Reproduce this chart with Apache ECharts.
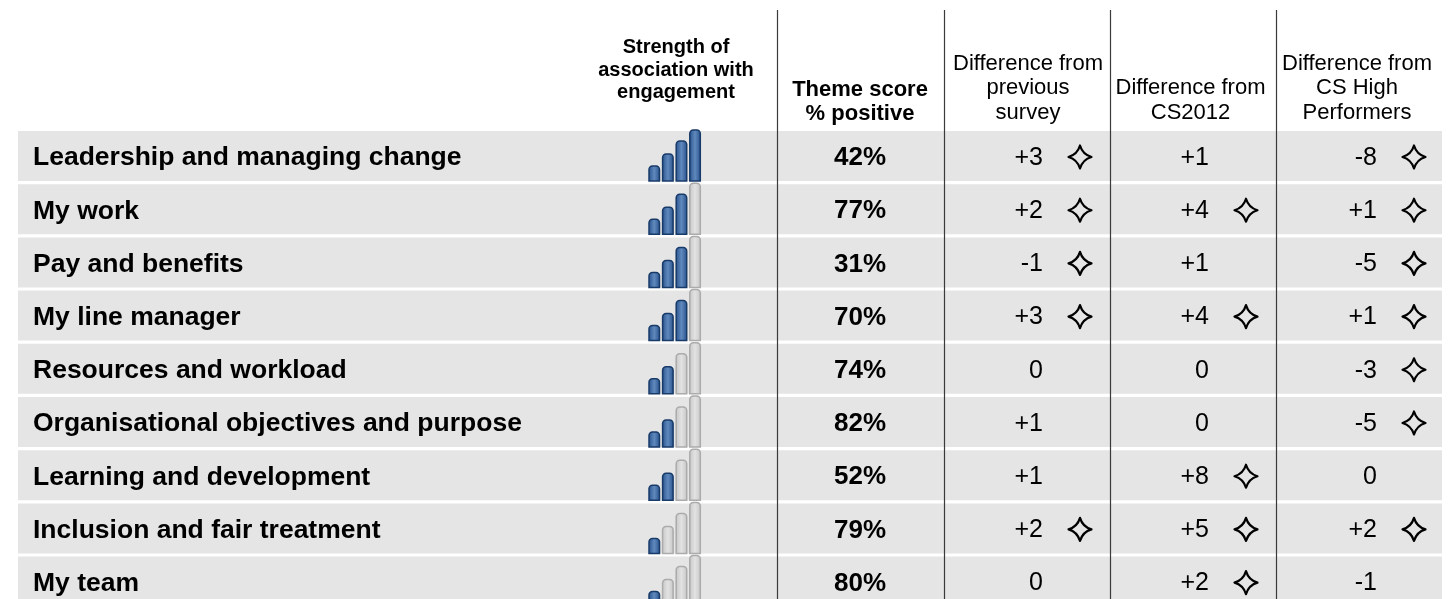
<!DOCTYPE html>
<html>
<head>
<meta charset="utf-8">
<script src="https://cdn.jsdelivr.net/npm/echarts@6/dist/echarts.min.js"></script>
<style>
html, body { margin: 0; padding: 0; background: #fff; }
#main { width: 1451px; height: 599px; }
</style>
</head>
<body>
<div id="main"></div>
<script>
var themes = [
    'Leadership and managing change',
    'My work',
    'Pay and benefits',
    'My line manager',
    'Resources and workload',
    'Organisational objectives and purpose',
    'Learning and development',
    'Inclusion and fair treatment',
    'My team'
];
// strength of association with engagement (number of filled bars out of 4)
var strength = [4, 3, 3, 3, 2, 2, 2, 1, 1];
var scores = [42, 77, 31, 70, 74, 82, 52, 79, 80];
var diffPrev = [3, 2, -1, 3, 0, 1, 1, 2, 0];
var sigPrev = [1, 1, 1, 1, 0, 0, 0, 1, 0];
var diffCS2012 = [1, 4, 1, 4, 0, 0, 8, 5, 2];
var sigCS2012 = [0, 1, 0, 1, 0, 0, 1, 1, 1];
var diffHigh = [-8, 1, -5, 1, -3, -5, 0, 2, -1];
var sigHigh = [1, 1, 1, 1, 1, 1, 0, 1, 0];

var FONT = '"Liberation Sans", Arial, Helvetica, sans-serif';
var iconHeights = [15, 27, 40, 51];
var diffCols = [
    { right: 1043, values: diffPrev, sig: sigPrev },
    { right: 1209, values: diffCS2012, sig: sigCS2012 },
    { right: 1377, values: diffHigh, sig: sigHigh }
];

function fmt(v) {
    return v > 0 ? '+' + v : String(v);
}

function txt(x, y, text, font, align) {
    return {
        type: 'text',
        style: {
            x: x, y: y, text: text, font: font, fill: '#000',
            align: align, textAlign: align,
            verticalAlign: 'middle', textVerticalAlign: 'middle'
        }
    };
}

var blueFill = new echarts.graphic.LinearGradient(0, 0, 1, 0, [
    { offset: 0, color: '#25508a' },
    { offset: 0.5, color: '#6089bd' },
    { offset: 1, color: '#25508a' }
]);
var greyFill = new echarts.graphic.LinearGradient(0, 0, 1, 0, [
    { offset: 0, color: '#c6c6c6' },
    { offset: 0.5, color: '#e2e2e2' },
    { offset: 1, color: '#c6c6c6' }
]);

// four pointed star outline (significance marker)
var STAR = 'M11.5,0 Q14.1,8.9 23,11.5 Q14.1,14.1 11.5,23 Q8.9,14.1 0,11.5 Q8.9,8.9 11.5,0 Z';

function renderRow(params, api) {
    var i = api.value(0);
    var l = api.coord([18, i]);
    var r = api.coord([1442, i]);
    var cy = l[1];
    var h = api.size([0, 1])[1] - 3.2;
    var top = cy - h / 2, bottom = cy + h / 2;
    var kids = [{
        type: 'rect',
        shape: { x: l[0], y: top, width: r[0] - l[0], height: h },
        style: { fill: '#e5e5e5' }
    }];
    kids.push(txt(api.coord([33, i])[0], cy + 2, themes[i], 'bold 26.5px ' + FONT, 'left'));

    // strength icon
    for (var b = 0; b < 4; b++) {
        var bx = api.coord([649 + b * 13.6, i])[0];
        var on = b < strength[i];
        kids.push({
            type: 'rect',
            shape: { x: bx, y: bottom - iconHeights[b], width: 10.5, height: iconHeights[b], r: [3.5, 3.5, 0, 0] },
            style: { fill: on ? blueFill : greyFill, stroke: on ? '#183a68' : '#ababab', lineWidth: 1.5 }
        });
    }

    kids.push(txt(api.coord([860, i])[0], cy + 2, scores[i] + '%', 'bold 26px ' + FONT, 'center'));

    diffCols.forEach(function (c) {
        var x = api.coord([c.right, i])[0];
        kids.push(txt(x, cy + 2, fmt(c.values[i]), '25px ' + FONT, 'right'));
        if (c.sig[i]) {
            var sx = x + 37;
            kids.push({
                type: 'path',
                shape: { pathData: STAR, x: sx - 11.5, y: cy - 10.5, width: 23, height: 23, layout: 'cover' },
                style: { fill: 'none', stroke: '#000', lineWidth: 2.2, lineJoin: 'round' }
            });
        }
    });

    return { type: 'group', children: kids };
}

var graphics = [
    { type: 'text', style: { x: 676, y: 70, text: 'Strength of\nassociation with\nengagement', font: 'bold 20px ' + FONT, lineHeight: 22.5, fill: '#000', align: 'center', textAlign: 'center', verticalAlign: 'middle', textVerticalAlign: 'middle' } },
    { type: 'text', style: { x: 860, y: 102, text: 'Theme score\n% positive', font: 'bold 22px ' + FONT, lineHeight: 24, fill: '#000', align: 'center', textAlign: 'center', verticalAlign: 'middle', textVerticalAlign: 'middle' } },
    { type: 'text', style: { x: 1028, y: 88, text: 'Difference from\nprevious\nsurvey', font: '22px ' + FONT, lineHeight: 24.5, fill: '#000', align: 'center', textAlign: 'center', verticalAlign: 'middle', textVerticalAlign: 'middle' } },
    { type: 'text', style: { x: 1190.5, y: 100.5, text: 'Difference from\nCS2012', font: '22px ' + FONT, lineHeight: 24.5, fill: '#000', align: 'center', textAlign: 'center', verticalAlign: 'middle', textVerticalAlign: 'middle' } },
    { type: 'text', style: { x: 1357, y: 88, text: 'Difference from\nCS High\nPerformers', font: '22px ' + FONT, lineHeight: 24.5, fill: '#000', align: 'center', textAlign: 'center', verticalAlign: 'middle', textVerticalAlign: 'middle' } }
];
[777.5, 944.5, 1110.5, 1276.5].forEach(function (x) {
    graphics.push({
        type: 'line', z: 100,
        shape: { x1: x, y1: 10, x2: x, y2: 599 },
        style: { stroke: '#3a3a3a', lineWidth: 1.2 }
    });
});

var chart = echarts.init(document.getElementById('main'));
chart.setOption({
    backgroundColor: '#fff',
    animation: false,
    grid: { left: 0, right: 0, top: 129.4, height: 478.8, outerBoundsMode: 'none' },
    xAxis: { type: 'value', min: 0, max: 1451, show: false },
    yAxis: { type: 'category', data: themes, inverse: true, show: false },
    graphic: graphics,
    series: [{
        type: 'custom',
        renderItem: renderRow,
        clip: false,
        data: themes.map(function (t, i) { return [i]; }),
        encode: { y: 0 }
    }]
});
</script>
</body>
</html>
